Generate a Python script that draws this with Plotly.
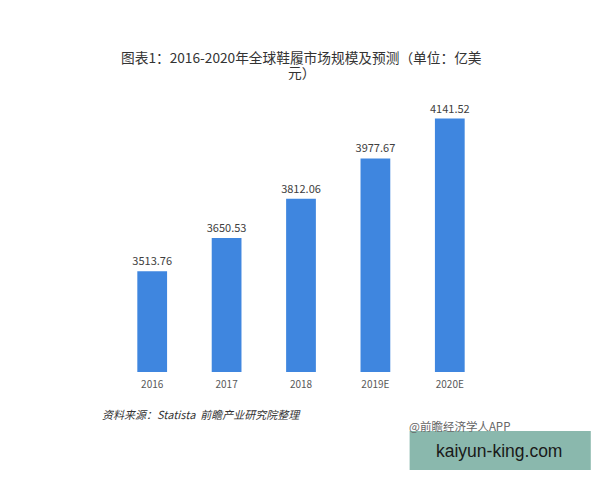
import plotly.graph_objects as go

# 数据
years = ['2016', '2017', '2018', '2019E', '2020E']
market_size = [3513.76, 3650.53, 3812.06, 3977.67, 4141.52]

title_line1 = '图表1：2016-2020年全球鞋履市场规模及预测（单位：亿美'
title_line2 = '元）'
source_text = '资料来源：Statista  前瞻产业研究院整理'

FONT = 'Noto Sans CJK SC, Noto Sans, sans-serif'
BAR_COLOR = '#3f86df'

fig = go.Figure()

fig.add_trace(go.Bar(
    x=years,
    y=market_size,
    marker=dict(color=BAR_COLOR, line=dict(width=0)),
    text=[f'{v:.2f}' for v in market_size],
    textposition='outside',
    constraintext='none',
    textfont=dict(size=11, color='#404040', family=FONT),
    cliponaxis=False,
))

fig.update_layout(
    width=600,
    height=480,
    paper_bgcolor='white',
    plot_bgcolor='white',
    font=dict(family=FONT, color='#404040'),
    bargap=0.6,
    showlegend=False,
    margin=dict(l=107, r=121, t=72, b=116),
    xaxis=dict(
        showline=False,
        showgrid=False,
        ticks='',
        ticklabelstandoff=5,
        tickfont=dict(size=10, color='#595959', family=FONT),
    ),
    yaxis=dict(
        range=[3100, 4300],
        visible=False,
        showgrid=False,
    ),
)

# 标题（两行）
for txt, yy in [(title_line1, 1.08), (title_line2, 1.028)]:
    fig.add_annotation(
        text=txt,
        xref='paper', yref='paper',
        x=0.5, y=yy,
        xanchor='center', yanchor='middle',
        showarrow=False,
        font=dict(size=13.7, color='#333333', family=FONT),
    )

# 资料来源
fig.add_annotation(
    text=f'<i>{source_text}</i>',
    xref='paper', yref='paper',
    x=-0.04, y=-0.144,
    xanchor='left', yanchor='middle',
    showarrow=False,
    font=dict(size=11, color='#333333', family=FONT),
)

# 右下角署名
fig.add_annotation(
    text='@前瞻经济学人APP',
    xref='paper', yref='paper',
    x=0.785, y=-0.185,
    xanchor='left', yanchor='middle',
    showarrow=False,
    font=dict(size=11.5, color='#666666', family=FONT),
)

# 网站水印框
fig.add_shape(
    type='rect',
    xref='paper', yref='paper',
    x0=0.792, x1=1.279,
    y0=-0.336, y1=-0.202,
    fillcolor='#8ab8ad',
    line=dict(width=0),
    layer='above',
)
fig.add_annotation(
    text='kaiyun-king.com',
    xref='paper', yref='paper',
    x=1.031, y=-0.27,
    xanchor='center', yanchor='middle',
    showarrow=False,
    font=dict(size=17.5, color='#1a1a1a', family='Liberation Sans, sans-serif'),
)

fig.write_html('out.html')
